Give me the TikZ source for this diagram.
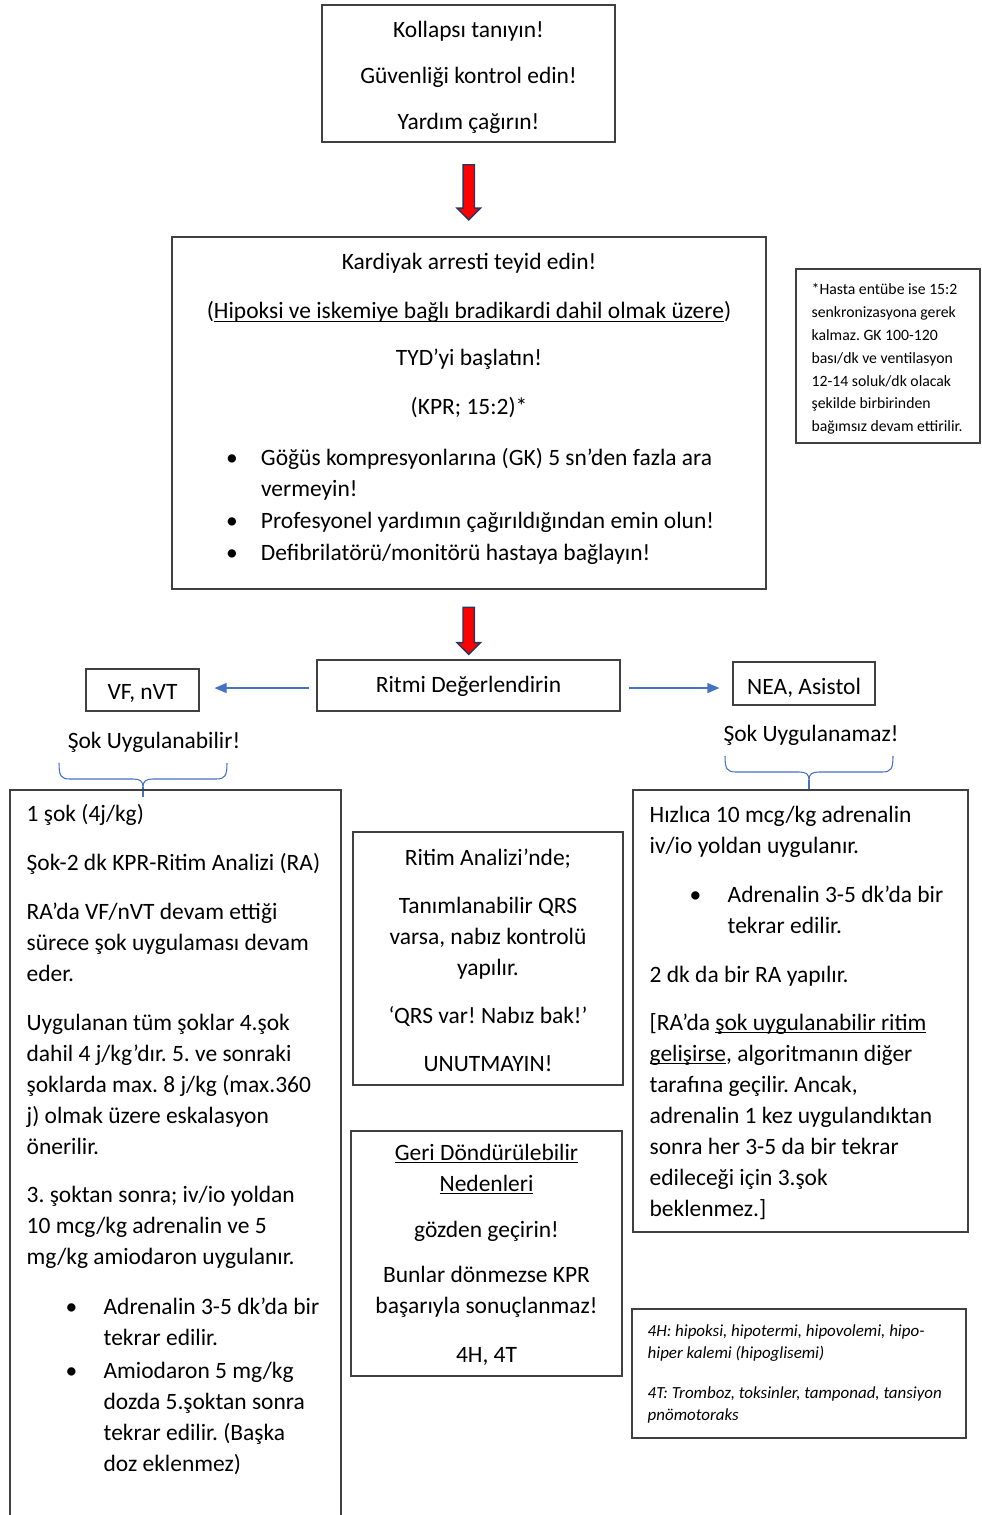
\documentclass[tikz,border=0pt]{standalone}
\usepackage{fontspec}
\setmainfont{Carlito}
\usetikzlibrary{arrows.meta, positioning, shapes.arrows, calc}
\definecolor{framegray}{RGB}{64,64,64}
\definecolor{flowblue}{RGB}{68,114,196}
\definecolor{arrowred}{RGB}{255,0,0}
\definecolor{arrownavy}{RGB}{31,56,100}
\frenchspacing
\newsavebox{\ulbox}
\newcommand{\uln}[1]{\sbox{\ulbox}{#1}\rlap{\rule[-2.4pt]{\wd\ulbox}{0.9pt}}\usebox{\ulbox}}
\newcommand{\bitem}[1]{\makebox[26.25pt][l]{\textbullet}#1}
\newcommand{\sitem}[1]{\hspace*{29.25pt}\makebox[28.5pt][l]{\textbullet}#1}

\tikzset{
  box/.style={draw=framegray, line width=0.9pt, inner sep=0pt},
  txt/.style={inner sep=0pt, align=left, font=\fontsize{17.6pt}{23.25pt}\selectfont},
  ctxt/.style={inner sep=0pt, align=center, font=\fontsize{17.6pt}{23.25pt}\selectfont},
  redarrow/.style={single arrow, fill=arrowred, draw=arrownavy, line width=1pt,
    shape border rotate=270, inner sep=3.75pt, single arrow head extend=4.5pt},
  bluearrow/.style={draw=flowblue, line width=0.9pt, -{Triangle[length=9pt, width=7.5pt]}},
  bracket/.style={draw=flowblue, line width=0.8pt},
}

\begin{document}
\begin{tikzpicture}[x=0.75pt, y=-0.75pt]
  \useasboundingbox (0,0) rectangle (981,1515);
  \clip (0,0) rectangle (981,1515);

  % top of the chart
  \node[box, minimum width=219.75pt, minimum height=102.75pt] (collapse) at (468.5,73.5) {};
  \node[ctxt, yshift=-3pt] (collapsetxt) at (collapse)
    {Kollapsı tanıyın!\\[11.25pt] Güvenliği kontrol edin!\\[11.25pt] Yardım çağırın!};
  \node[box, minimum width=445.5pt, minimum height=264pt] (arrest) at (469,413) {};
  \node[ctxt, yshift=3pt] (arresttxt) at (arrest)
    {Kardiyak arresti teyid edin!\\[13.5pt]
     (\uln{Hipoksi ve iskemiye bağlı bradikardi dahil olmak üzere})\\[12pt]
     TYD’yi başlatın!\\[13.5pt]
     (KPR; 15:2)*\\[15pt]
     \makebox[364.5pt][l]{\bitem{Göğüs kompresyonlarına (GK) 5 sn’den fazla ara}}\\
     \makebox[364.5pt][l]{\hspace*{26.25pt}vermeyin!}\\[0.75pt]
     \makebox[364.5pt][l]{\bitem{Profesyonel yardımın çağırıldığından emin olun!}}\\[0.75pt]
     \makebox[364.5pt][l]{\bitem{Defibrilatörü/monitörü hastaya bağlayın!}}};
  \node[box, minimum width=138pt, minimum height=130.5pt] (note) at (888,356) {};
  \node[txt, font=\fontsize{11.8pt}{17.1pt}\selectfont, anchor=west] (notetxt) at ([xshift=12pt, yshift=-2.25pt]note.west)
    {*Hasta entübe ise 15:2\\senkronizasyona gerek\\kalmaz. GK 100-120\\bası/dk ve ventilasyon\\12-14 soluk/dk olacak\\şekilde birbirinden\\bağımsız devam ettirilir.};

  % rhythm check
  \node[box, minimum width=227.25pt, minimum height=38.25pt] (rhythm) at (468.5,685.5) {};
  \node[ctxt, yshift=-0.75pt] (rhythmtxt) at (rhythm) {Ritmi Değerlendirin};
  \node[box, minimum width=84.75pt, minimum height=31.5pt] (vf) at (142.5,690) {};
  \node[ctxt, yshift=-2.6pt] (vftxt) at (vf) {VF, nVT};
  \node[box, minimum width=106.5pt, minimum height=32.25pt] (nea) at (804,683.5) {};
  \node[ctxt, yshift=-3pt] (neatxt) at (nea) {NEA, Asistol};
  \node[ctxt] (shockable) at (154,742) {Şok Uygulanabilir!};
  \node[ctxt] (nonshockable) at (811,735) {Şok Uygulanamaz!};

  \node[redarrow, minimum height=41.25pt] (down1) at ($(collapse.south)!0.5!(arrest.north)$) {};
  \node[redarrow, minimum height=35.25pt] (down2) at ($(arrest.south)!0.55!(rhythm.north)$) {};

  \draw[bluearrow, shorten <=5.25pt, shorten >=11.25pt] ([yshift=-1.9pt]rhythm.west) -- ([yshift=-1.9pt]rhythm.west -| vf.east);
  \draw[bluearrow, shorten <=6pt, shorten >=9.75pt] ([yshift=-1.9pt]rhythm.east) -- ([yshift=-1.9pt]rhythm.east -| nea.west);

  \draw[bracket] (59,763) .. controls (59,776) and (61,779) .. (70,779) -- (133,779)
    .. controls (140,779) and (143,781) .. (143,787) .. controls (143,781) and (146,779) .. (153,779)
    -- (216,779) .. controls (225,779) and (227,776) .. (227,763);
  \draw[bracket] (143,787) -- (143,797);
  \draw[bracket] (725,756) .. controls (725,769) and (727,772) .. (736,772) -- (799,772)
    .. controls (806,772) and (809,774) .. (809,780) .. controls (809,774) and (812,772) .. (819,772)
    -- (882,772) .. controls (891,772) and (893,769) .. (893,756);
  \draw[bracket] (809,780) -- (809,791);

  % shockable side
  \node[box, minimum width=248.25pt, minimum height=551.25pt] (shock) at (175.5,1157.5) {};
  \node[txt, anchor=north west] (shocktxt) at ([xshift=12.75pt, yshift=-11.25pt]shock.north west)
    {1 şok (4j/kg)\\[13.5pt]
     Şok-2 dk KPR-Ritim Analizi (RA)\\[13.5pt]
     RA’da VF/nVT devam ettiği\\sürece şok uygulaması devam\\eder.\\[13.5pt]
     Uygulanan tüm şoklar 4.şok\\dahil 4 j/kg’dır. 5. ve sonraki\\şoklarda max. 8 j/kg (max.360\\j) olmak üzere eskalasyon\\önerilir.\\[12.75pt]
     3. şoktan sonra; iv/io yoldan\\10 mcg/kg adrenalin ve 5\\mg/kg amiodaron uygulanır.\\[14.25pt]
     \sitem{Adrenalin 3-5 dk’da bir}\\
     \hspace*{57.75pt}tekrar edilir.\\[1.5pt]
     \sitem{Amiodaron 5 mg/kg}\\
     \hspace*{57.75pt}dozda 5.şoktan sonra\\
     \hspace*{57.75pt}tekrar edilir. (Başka\\
     \hspace*{57.75pt}doz eklenmez)};

  % middle reminders
  \node[box, minimum width=202.5pt, minimum height=189.75pt] (check) at (488,958.5) {};
  \node[ctxt, yshift=-1.5pt] (checktxt) at (check)
    {Ritim Analizi’nde;\\[12.75pt] Tanımlanabilir QRS\\varsa, nabız kontrolü\\yapılır.\\[12.75pt]
     ‘QRS var! Nabız bak!’\\[12.75pt] UNUTMAYIN!};
  \node[box, minimum width=203.25pt, minimum height=183.75pt] (causes) at (486.5,1253.5) {};
  \node[ctxt, yshift=-0.75pt] (causestxt) at (causes)
    {\uln{Geri Döndürülebilir}\\\uln{Nedenleri}\\[11.25pt] gözden geçirin!\\[10.5pt]
     Bunlar dönmezse KPR\\başarıyla sonuçlanmaz!\\[13.5pt] 4H, 4T};

  % non-shockable side
  \node[box, minimum width=251.25pt, minimum height=331.5pt] (adrenaline) at (800.5,1011) {};
  \node[txt, anchor=west] (adrenalinetxt) at ([xshift=12.75pt, yshift=-1.1pt]adrenaline.west)
    {Hızlıca 10 mcg/kg adrenalin\\iv/io yoldan uygulanır.\\[13.5pt]
     \hspace*{30pt}\makebox[28.5pt][l]{\textbullet}Adrenalin 3-5 dk’da bir\\
     \hspace*{58.5pt}tekrar edilir.\\[13.5pt]
     2 dk da bir RA yapılır.\\[12.75pt]
     {[}RA’da \uln{şok uygulanabilir ritim}\\
     \uln{gelişirse}, algoritmanın diğer\\
     tarafına geçilir. Ancak,\\
     adrenalin 1 kez uygulandıktan\\
     sonra her 3-5 da bir tekrar\\
     edileceği için 3.şok\\
     beklenmez.]};
  \node[box, minimum width=250.5pt, minimum height=96.75pt] (reversible) at (799,1373.5) {};
  \node[txt, font=\fontsize{12.7pt}{16.5pt}\selectfont\itshape, anchor=west] (reversibletxt) at ([xshift=12pt]reversible.west)
    {4H: hipoksi, hipotermi, hipovolemi, hipo-\\hiper kalemi (hipoglisemi)\\[13.5pt]
     4T: Tromboz, toksinler, tamponad, tansiyon\\pnömotoraks};
\end{tikzpicture}
\end{document}
